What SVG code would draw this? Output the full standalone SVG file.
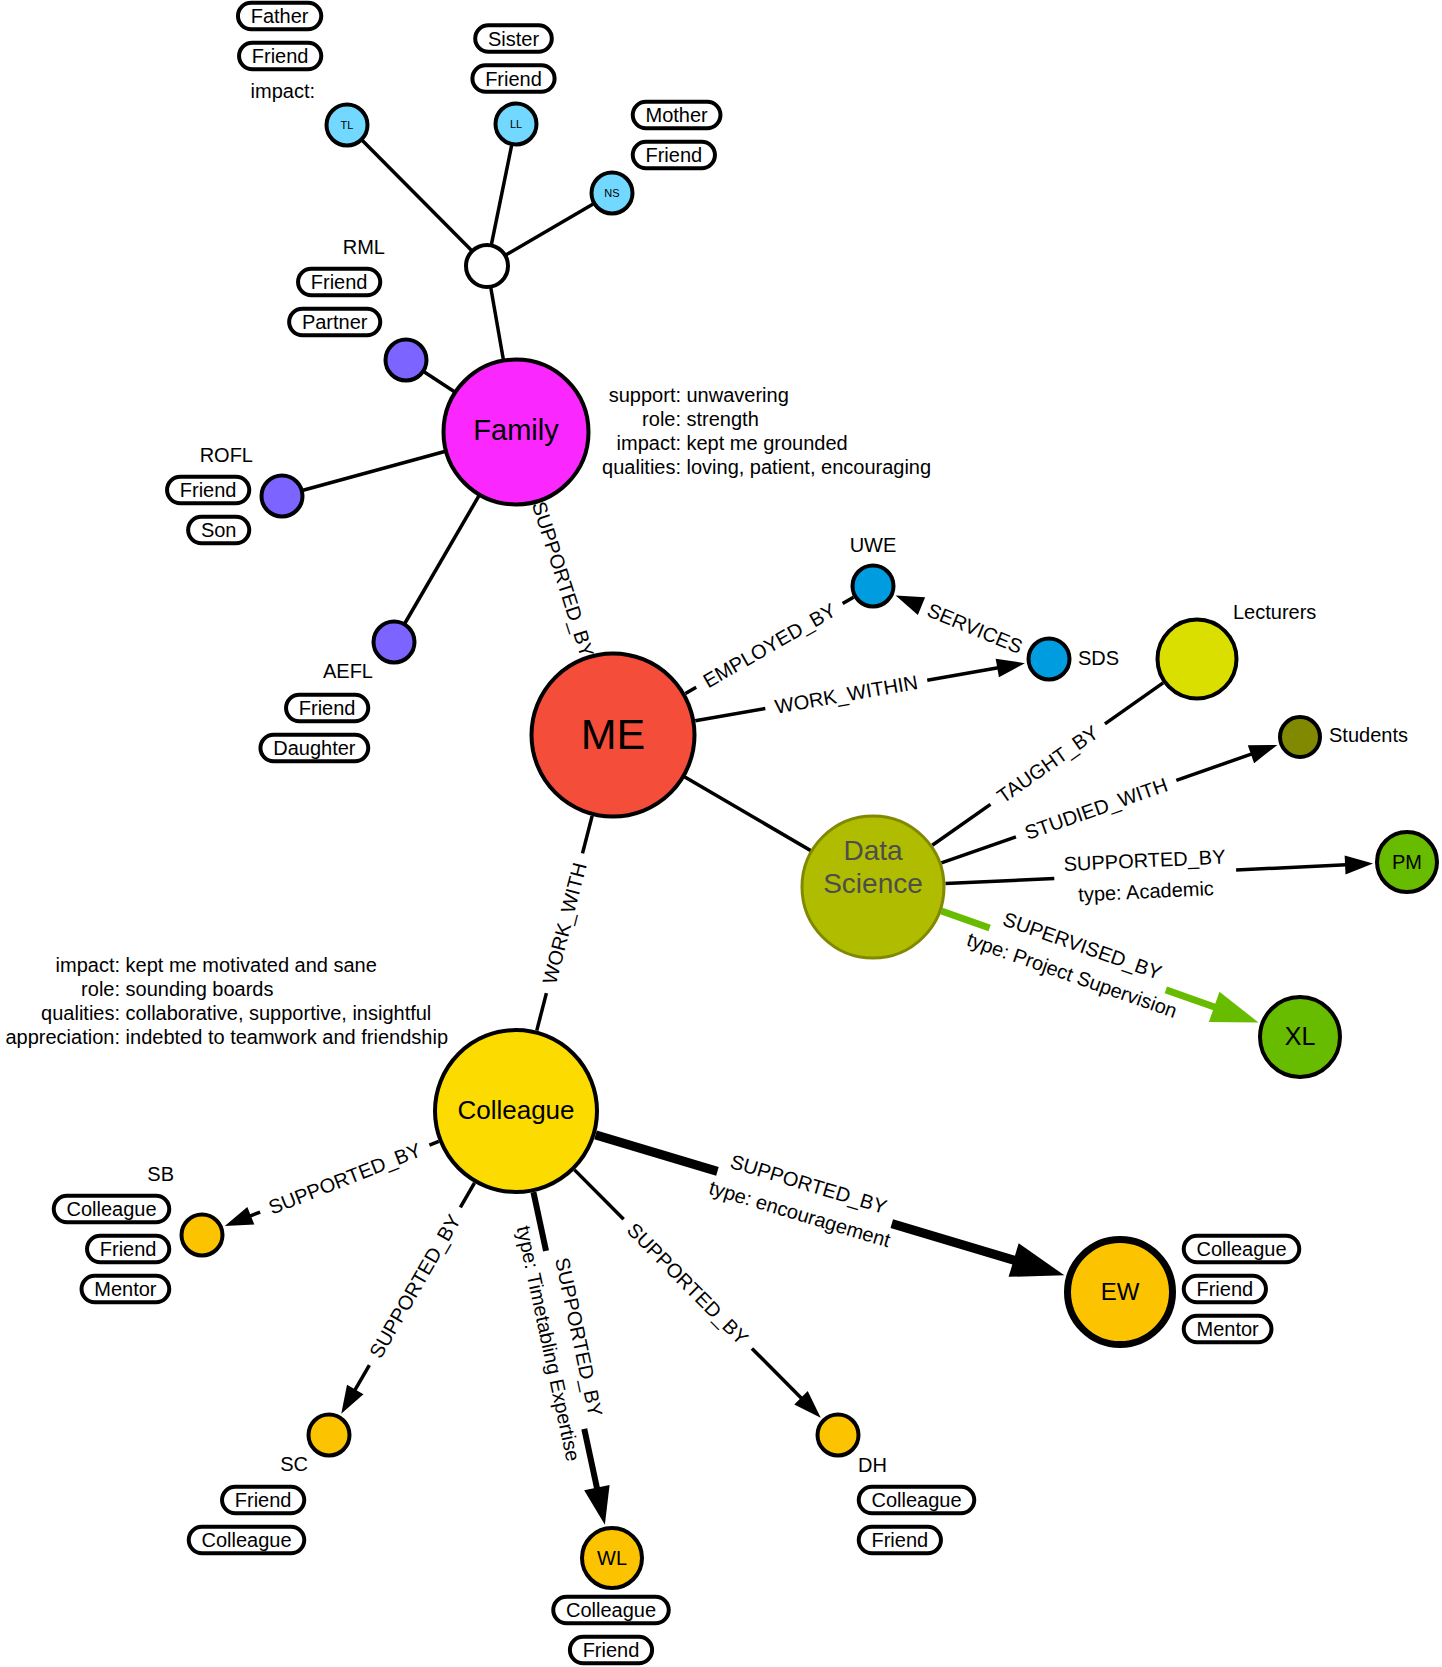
<svg xmlns="http://www.w3.org/2000/svg" width="1442" height="1667" viewBox="0 0 1442 1667">
<style>
.t{font-family:"Liberation Sans",Arial,sans-serif;font-size:20px;fill:#000}
.m{text-anchor:middle}
.en{text-anchor:end}
.n{stroke:#000;stroke-width:4}
.p{fill:#fff;stroke:#000;stroke-width:4}
.e{stroke:#000;stroke-width:3.5;fill:none}
.ah{fill:#000}
</style>
<rect width="1442" height="1667" fill="#fff"/>
<g id="connectors">
  <line class="e" x1="516" y1="432" x2="487" y2="266"/>
  <line class="e" x1="487" y1="266" x2="347" y2="125"/>
  <line class="e" x1="487" y1="266" x2="516" y2="124"/>
  <line class="e" x1="487" y1="266" x2="612" y2="193"/>
  <line class="e" x1="516" y1="432" x2="406" y2="360"/>
  <line class="e" x1="516" y1="432" x2="282" y2="496"/>
  <line class="e" x1="516" y1="432" x2="394" y2="642"/>
  <line class="e" x1="613" y1="735" x2="873" y2="887"/>
  <g id="e-family-me" transform="translate(516,432) rotate(72.25)">
    <text class="t m" x="154.6" y="7">SUPPORTED_BY</text>
  </g>
  <g id="e-me-uwe" transform="translate(613,735) rotate(-29.81)">
    <line class="e" x1="83.5" y1="0" x2="95.9" y2="0"/>
    <line class="e" x1="264.7" y1="0" x2="277.2" y2="0"/>
    <text class="t m" x="180.3" y="7">EMPLOYED_BY</text>
  </g>
  <g id="e-sds-uwe" transform="translate(873,586) rotate(22.53)">
    <polygon class="ah" points="24.5,0 52.5,-9.5 52.5,9.5"/>
    <text class="t m" x="110.3" y="7">SERVICES</text>
  </g>
  <g id="e-me-sds" transform="translate(613,735) rotate(-9.89)">
    <line class="e" x1="83.5" y1="0" x2="154.6" y2="0"/>
    <line class="e" x1="319" y1="0" x2="391" y2="0"/>
    <polygon class="ah" points="418.1,0 390.1,-9.5 390.1,9.5"/>
    <text class="t m" x="236.8" y="7">WORK_WITHIN</text>
  </g>
  <g id="e-me-colleague" transform="translate(516,1111) rotate(-75.53)">
    <line class="e" x1="83" y1="0" x2="121.7" y2="0"/>
    <line class="e" x1="266.1" y1="0" x2="304.8" y2="0"/>
    <text class="t m" x="193.9" y="7">WORK_WITH</text>
  </g>
  <g id="e-ds-lecturers" transform="translate(873,887) rotate(-35.13)">
    <line class="e" x1="72.5" y1="0" x2="143.6" y2="0"/>
    <line class="e" x1="283.6" y1="0" x2="354.7" y2="0"/>
    <text class="t m" x="213.6" y="7">TAUGHT_BY</text>
  </g>
  <g id="e-ds-students" transform="translate(873,887) rotate(-19.36)">
    <line class="e" x1="72.5" y1="0" x2="151.5" y2="0"/>
    <line class="e" x1="321.5" y1="0" x2="401.6" y2="0"/>
    <polygon class="ah" points="428.6,0 400.6,-9.5 400.6,9.5"/>
    <text class="t m" x="236.5" y="7">STUDIED_WITH</text>
  </g>
  <g id="e-ds-pm" transform="translate(873,887) rotate(-2.68)">
    <line class="e" x1="72.5" y1="0" x2="181.5" y2="0"/>
    <line class="e" x1="363.5" y1="0" x2="473.6" y2="0"/>
    <polygon class="ah" points="500.6,0 472.6,-9.5 472.6,9.5"/>
    <text class="t m" x="272.5" y="-7">SUPPORTED_BY</text>
    <text class="t m" x="272.5" y="24">type: Academic</text>
  </g>
  <g id="e-ds-xl" transform="translate(873,887) rotate(19.36)">
    <line x1="72.5" y1="0" x2="123.6" y2="0" stroke="#68bc00" stroke-width="7"/>
    <line x1="310.4" y1="0" x2="362.6" y2="0" stroke="#68bc00" stroke-width="7"/>
    <polygon points="408.6,0 361.6,-16 361.6,16" fill="#68bc00"/>
    <text class="t m" x="217" y="-7">SUPERVISED_BY</text>
    <text class="t m" x="217" y="24">type: Project Supervision</text>
  </g>
  <g id="e-colleague-sb" transform="translate(202,1235) rotate(-21.55)">
    <polygon class="ah" points="24.5,0 52.5,-9.5 52.5,9.5"/>
    <line class="e" x1="51.5" y1="0" x2="62.5" y2="0"/>
    <line class="e" x1="244.5" y1="0" x2="254.6" y2="0"/>
    <text class="t m" x="153.5" y="7">SUPPORTED_BY</text>
  </g>
  <g id="e-colleague-sc" transform="translate(329,1435) rotate(-60.01)">
    <polygon class="ah" points="24.5,0 52.5,-9.5 52.5,9.5"/>
    <line class="e" x1="51.5" y1="0" x2="80.8" y2="0"/>
    <line class="e" x1="262.8" y1="0" x2="291.1" y2="0"/>
    <text class="t m" x="171.8" y="7">SUPPORTED_BY</text>
  </g>
  <g id="e-colleague-wl" transform="translate(516,1111) rotate(77.88)">
    <line x1="83" y1="0" x2="143.1" y2="0" stroke="#000" stroke-width="6"/>
    <line x1="325.1" y1="0" x2="386.2" y2="0" stroke="#000" stroke-width="6"/>
    <polygon class="ah" points="423.2,0 385.2,-13 385.2,13"/>
    <text class="t m" x="234.1" y="-7">SUPPORTED_BY</text>
    <text class="t m" x="234.1" y="24">type: Timetabling Expertise</text>
  </g>
  <g id="e-colleague-dh" transform="translate(516,1111) rotate(45.18)">
    <line class="e" x1="83" y1="0" x2="152.7" y2="0"/>
    <line class="e" x1="334.7" y1="0" x2="405.3" y2="0"/>
    <polygon class="ah" points="432.3,0 404.3,-9.5 404.3,9.5"/>
    <text class="t m" x="243.7" y="7">SUPPORTED_BY</text>
  </g>
  <g id="e-colleague-ew" transform="translate(516,1111) rotate(16.68)">
    <line x1="83" y1="0" x2="210.3" y2="0" stroke="#000" stroke-width="9"/>
    <line x1="392.3" y1="0" x2="520.5" y2="0" stroke="#000" stroke-width="9"/>
    <polygon class="ah" points="572.5,0 519.5,-17.5 519.5,17.5"/>
    <text class="t m" x="301.3" y="-7">SUPPORTED_BY</text>
    <text class="t m" x="301.3" y="24">type: encouragement</text>
  </g>
</g>

<g id="node-hub"><circle class="n" cx="487" cy="266" r="21" fill="#fff"/></g>

<g id="node-tl">
  <circle class="n" cx="347" cy="125" r="20.5" fill="#73d8ff"/>
  <text class="t m" x="347" y="129" style="font-size:11px">TL</text>
  <rect class="p" x="237.95" y="2.75" width="83.3" height="26.5" rx="13.25"/>
  <text class="t m" x="279.6" y="23">Father</text>
  <rect class="p" x="239.05" y="42.75" width="82.2" height="26.5" rx="13.25"/>
  <text class="t m" x="280.15" y="63">Friend</text>
  <text class="t en" x="315" y="98">impact:</text>
</g>
<g id="node-ll">
  <circle class="n" cx="516" cy="124" r="20.5" fill="#73d8ff"/>
  <text class="t m" x="516" y="128" style="font-size:11px">LL</text>
  <rect class="p" x="475.2" y="25.25" width="76.6" height="26.5" rx="13.25"/>
  <text class="t m" x="513.5" y="45.5">Sister</text>
  <rect class="p" x="472.4" y="65.25" width="82.2" height="26.5" rx="13.25"/>
  <text class="t m" x="513.5" y="85.5">Friend</text>
</g>
<g id="node-ns">
  <circle class="n" cx="612" cy="193" r="20.5" fill="#73d8ff"/>
  <text class="t m" x="612" y="197" style="font-size:11px">NS</text>
  <rect class="p" x="632.75" y="101.75" width="87.7" height="26.5" rx="13.25"/>
  <text class="t m" x="676.6" y="122">Mother</text>
  <rect class="p" x="632.75" y="141.75" width="82.2" height="26.5" rx="13.25"/>
  <text class="t m" x="673.85" y="162">Friend</text>
</g>
<g id="node-rml">
  <circle class="n" cx="406" cy="360" r="20.5" fill="#7b64ff"/>
  <text class="t en" x="385" y="254">RML</text>
  <rect class="p" x="298.05" y="268.75" width="82.2" height="26.5" rx="13.25"/>
  <text class="t m" x="339.15" y="289">Friend</text>
  <rect class="p" x="289.15" y="308.75" width="91.1" height="26.5" rx="13.25"/>
  <text class="t m" x="334.7" y="329">Partner</text>
</g>
<g id="node-rofl">
  <circle class="n" cx="282" cy="496" r="20.5" fill="#7b64ff"/>
  <text class="t en" x="253" y="462">ROFL</text>
  <rect class="p" x="167.05" y="476.75" width="82.2" height="26.5" rx="13.25"/>
  <text class="t m" x="208.15" y="497">Friend</text>
  <rect class="p" x="188.15" y="516.75" width="61.1" height="26.5" rx="13.25"/>
  <text class="t m" x="218.7" y="537">Son</text>
</g>
<g id="node-aefl">
  <circle class="n" cx="394" cy="642" r="20.5" fill="#7b64ff"/>
  <text class="t en" x="373" y="678">AEFL</text>
  <rect class="p" x="286.05" y="694.75" width="82.2" height="26.5" rx="13.25"/>
  <text class="t m" x="327.15" y="715">Friend</text>
  <rect class="p" x="260.45" y="734.75" width="107.8" height="26.5" rx="13.25"/>
  <text class="t m" x="314.35" y="755">Daughter</text>
</g>
<g id="node-family">
  <circle class="n" cx="516" cy="432" r="72.5" fill="#fa28ff"/>
  <text class="t m" x="516" y="440" style="font-size:29px">Family</text>
  <text class="t en" x="681" y="401.5">support:</text><text class="t" x="686.5" y="401.5">unwavering</text>
  <text class="t en" x="681" y="425.5">role:</text><text class="t" x="686.5" y="425.5">strength</text>
  <text class="t en" x="681" y="449.5">impact:</text><text class="t" x="686.5" y="449.5">kept me grounded</text>
  <text class="t en" x="681" y="473.5">qualities:</text><text class="t" x="686.5" y="473.5">loving, patient, encouraging</text>
</g>
<g id="node-me">
  <circle class="n" cx="613" cy="735" r="81.5" fill="#f44e3b"/>
  <text class="t m" x="613" y="749" style="font-size:43px">ME</text>
</g>
<g id="node-uwe">
  <circle class="n" cx="873" cy="586" r="20.5" fill="#009ce0"/>
  <text class="t m" x="873" y="552">UWE</text>
</g>
<g id="node-sds">
  <circle class="n" cx="1049" cy="659" r="20.5" fill="#009ce0"/>
  <text class="t" x="1078" y="665">SDS</text>
</g>
<g id="node-lecturers">
  <circle class="n" cx="1197" cy="659" r="39.5" fill="#dbdf00"/>
  <text class="t" x="1233" y="619">Lecturers</text>
</g>
<g id="node-students">
  <circle class="n" cx="1300" cy="737" r="20" fill="#808900"/>
  <text class="t" x="1329" y="742">Students</text>
</g>
<g id="node-datascience">
  <circle cx="873" cy="887" r="71" fill="#b0bc00" stroke="#808900" stroke-width="3"/>
  <text class="t m" x="873" y="860" style="font-size:28px;fill:#4d4d4d">Data</text>
  <text class="t m" x="873" y="893" style="font-size:28px;fill:#4d4d4d">Science</text>
</g>
<g id="node-pm">
  <circle class="n" cx="1407" cy="862" r="30" fill="#68bc00"/>
  <text class="t m" x="1407" y="869">PM</text>
</g>
<g id="node-xl">
  <circle class="n" cx="1300" cy="1037" r="40" fill="#68bc00"/>
  <text class="t m" x="1300" y="1045" style="font-size:25px">XL</text>
</g>
<g id="node-colleague">
  <circle class="n" cx="516" cy="1111" r="81" fill="#fcdc00"/>
  <text class="t m" x="516" y="1119" style="font-size:26px">Colleague</text>
  <text class="t en" x="120" y="972">impact:</text><text class="t" x="125.6" y="972">kept me motivated and sane</text>
  <text class="t en" x="120" y="996">role:</text><text class="t" x="125.6" y="996">sounding boards</text>
  <text class="t en" x="120" y="1020">qualities:</text><text class="t" x="125.6" y="1020">collaborative, supportive, insightful</text>
  <text class="t en" x="120" y="1044">appreciation:</text><text class="t" x="125.6" y="1044">indebted to teamwork and friendship</text>
</g>
<g id="node-sb">
  <circle class="n" cx="202" cy="1235" r="20.5" fill="#fcc400"/>
  <text class="t en" x="174" y="1181">SB</text>
  <rect class="p" x="53.75" y="1195.75" width="115.5" height="26.5" rx="13.25"/>
  <text class="t m" x="111.5" y="1216">Colleague</text>
  <rect class="p" x="87.05" y="1235.75" width="82.2" height="26.5" rx="13.25"/>
  <text class="t m" x="128.15" y="1256">Friend</text>
  <rect class="p" x="81.55" y="1275.75" width="87.7" height="26.5" rx="13.25"/>
  <text class="t m" x="125.4" y="1296">Mentor</text>
</g>
<g id="node-sc">
  <circle class="n" cx="329" cy="1435" r="20.5" fill="#fcc400"/>
  <text class="t en" x="308" y="1471">SC</text>
  <rect class="p" x="222.05" y="1486.75" width="82.2" height="26.5" rx="13.25"/>
  <text class="t m" x="263.15" y="1507">Friend</text>
  <rect class="p" x="188.75" y="1526.75" width="115.5" height="26.5" rx="13.25"/>
  <text class="t m" x="246.5" y="1547">Colleague</text>
</g>
<g id="node-wl">
  <circle class="n" cx="612" cy="1558" r="30" fill="#fcc400"/>
  <text class="t m" x="612" y="1565">WL</text>
  <rect class="p" x="553.25" y="1596.75" width="115.5" height="26.5" rx="13.25"/>
  <text class="t m" x="611" y="1617">Colleague</text>
  <rect class="p" x="569.9" y="1636.75" width="82.2" height="26.5" rx="13.25"/>
  <text class="t m" x="611" y="1657">Friend</text>
</g>
<g id="node-dh">
  <circle class="n" cx="838" cy="1435" r="20.5" fill="#fcc400"/>
  <text class="t" x="858" y="1472">DH</text>
  <rect class="p" x="858.75" y="1486.75" width="115.5" height="26.5" rx="13.25"/>
  <text class="t m" x="916.5" y="1507">Colleague</text>
  <rect class="p" x="858.75" y="1526.75" width="82.2" height="26.5" rx="13.25"/>
  <text class="t m" x="899.85" y="1547">Friend</text>
</g>
<g id="node-ew">
  <circle cx="1120" cy="1292" r="52.5" fill="#fcc400" stroke="#000" stroke-width="7"/>
  <text class="t m" x="1120" y="1300" style="font-size:24px">EW</text>
  <rect class="p" x="1183.75" y="1235.75" width="115.5" height="26.5" rx="13.25"/>
  <text class="t m" x="1241.5" y="1256">Colleague</text>
  <rect class="p" x="1183.75" y="1275.75" width="82.2" height="26.5" rx="13.25"/>
  <text class="t m" x="1224.85" y="1296">Friend</text>
  <rect class="p" x="1183.75" y="1315.75" width="87.7" height="26.5" rx="13.25"/>
  <text class="t m" x="1227.6" y="1336">Mentor</text>
</g>
</svg>
